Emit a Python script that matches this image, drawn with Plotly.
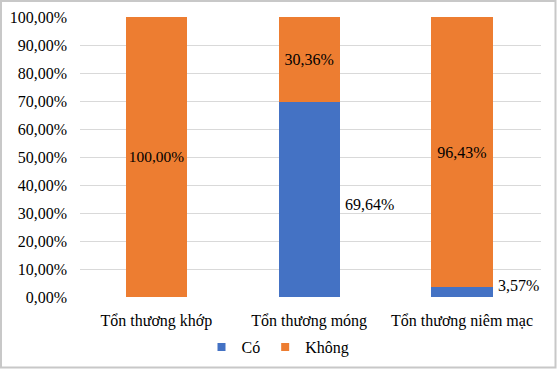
import plotly.graph_objects as go

categories = ["Tổn thương khớp", "Tổn thương móng", "Tổn thương niêm mạc"]
co_values = [0.0, 0.6964, 0.0357]
khong_values = [1.0, 0.3036, 0.9643]
series_names = ["Có", "Không"]
colors = ["#4472C4", "#ED7D31"]

def fmt(v):
    return f"{v*100:.2f}%".replace(".", ",")

font_family = "Liberation Serif"

fig = go.Figure()
fig.add_trace(go.Bar(
    x=categories, y=co_values, name=series_names[0],
    marker=dict(color=colors[0], line=dict(width=0)),
    hoverinfo="skip", showlegend=False,
))
fig.add_trace(go.Bar(
    x=categories, y=khong_values, name=series_names[1],
    marker=dict(color=colors[1], line=dict(width=0)),
    text=[fmt(v) for v in khong_values], textposition="inside",
    insidetextanchor="middle", textangle=0,
    textfont=dict(family=font_family, size=16, color="black"),
    hoverinfo="skip", showlegend=False,
))
# legend entries with small square markers
for name, c in zip(series_names, colors):
    fig.add_trace(go.Scatter(
        x=[None], y=[None], mode="markers", name=name,
        marker=dict(symbol="square", size=8, color=c),
    ))

# outside labels for "Có" segments
shifts = {1: -5, 2: 7}
for i, v in enumerate(co_values):
    if v > 0:
        fig.add_annotation(
            x=categories[i], y=v / 2, text=fmt(v), showarrow=False,
            xanchor="left", xshift=34, yshift=shifts.get(i, 0),
            font=dict(family=font_family, size=16, color="black"),
        )

L, T, W, H = 80, 17, 461, 280
fig.update_layout(
    barmode="stack",
    bargap=0.6,
    width=557, height=369,
    margin=dict(l=L, r=557 - L - W, t=T, b=369 - T - H, autoexpand=False),
    paper_bgcolor="white", plot_bgcolor="white",
    separators=",.",
    font=dict(family=font_family, size=16, color="black"),
    legend=dict(orientation="h", x=(278 - L) / W, xanchor="center",
                y=(T + H - 347) / H, yanchor="middle",
                font=dict(family=font_family, size=16), itemwidth=30,
                traceorder="normal", tracegroupgap=0),
    xaxis=dict(showgrid=False, showline=False, ticks="", ticklabelstandoff=12,
               automargin=False, tickfont=dict(family=font_family, size=16)),
    yaxis=dict(range=[0, 1], dtick=0.1, tickformat=".2%", showgrid=True,
               gridcolor="#D9D9D9", gridwidth=1, zeroline=False, automargin=False,
               ticklabelstandoff=12, tickfont=dict(family=font_family, size=16)),
)
fig.add_shape(type="rect", xref="paper", yref="paper",
              x0=(1 - L) / W, x1=(555.5 - L) / W,
              y0=(T + H - 367.5) / H, y1=(T + H - 1) / H,
              line=dict(color="#C8C8C8", width=2), layer="above")

fig.write_html("out.html", config={"displayModeBar": False},
               post_script="document.body.style.margin='0';document.body.style.overflow='hidden';")
